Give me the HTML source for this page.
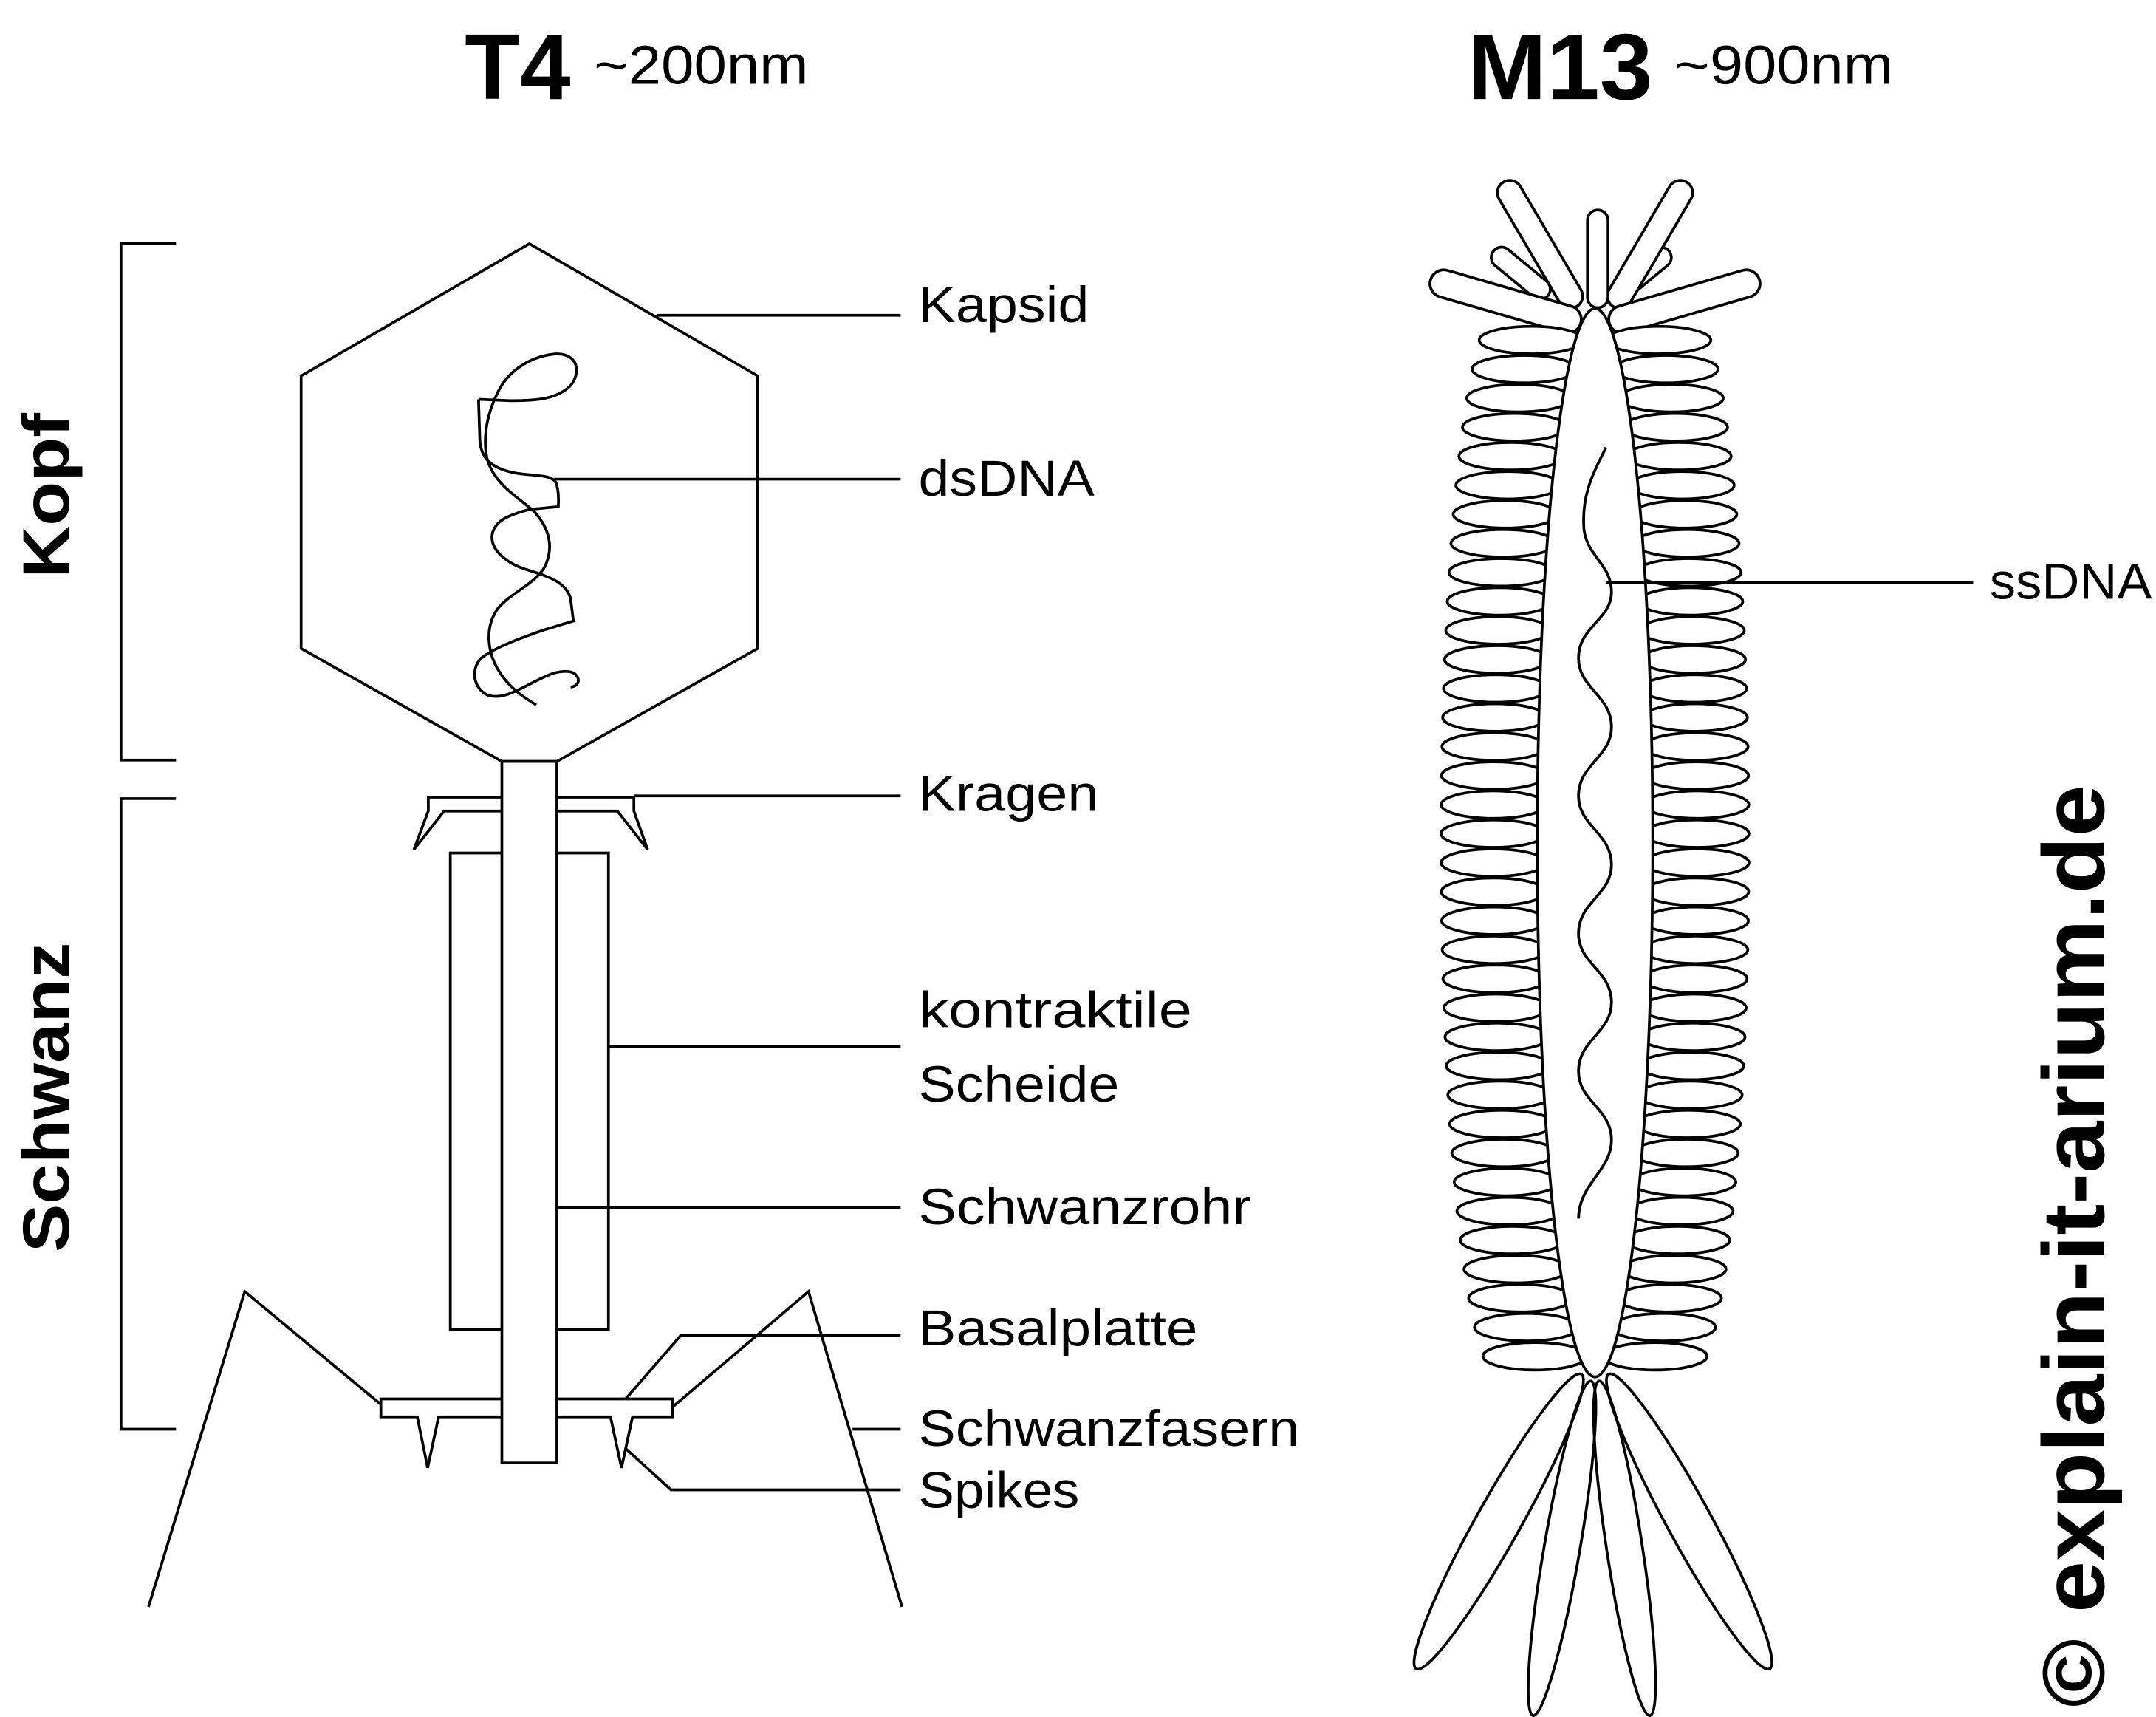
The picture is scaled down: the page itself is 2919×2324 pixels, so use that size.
<!DOCTYPE html>
<html><head><meta charset="utf-8"><style>
html,body{margin:0;padding:0;background:#fff}
svg{display:block}
text{font-family:"Liberation Sans",sans-serif;fill:#000}
</style></head><body>
<svg id="s" width="2919" height="2324" viewBox="0 0 1568 1247" preserveAspectRatio="none">
<g fill="none" stroke="#000" stroke-width="2">
<text x="338" y="72" font-size="68" font-weight="bold" stroke="none" textLength="77" lengthAdjust="spacingAndGlyphs">T4</text>
<text x="432" y="61" font-size="40" stroke="none" textLength="156" lengthAdjust="spacingAndGlyphs">~200nm</text>
<text x="1067" y="72" font-size="68" font-weight="bold" stroke="none" textLength="135" lengthAdjust="spacingAndGlyphs">M13</text>
<text x="1218" y="61" font-size="40" stroke="none" textLength="159" lengthAdjust="spacingAndGlyphs">~900nm</text>

<polyline points="128,177 88,177 88,552 128,552"/>
<polyline points="128,580 88,580 88,1038 128,1038"/>
<text transform="translate(50,360) rotate(-90)" text-anchor="middle" font-size="48" font-weight="bold" stroke="none" textLength="120" lengthAdjust="spacingAndGlyphs">Kopf</text>
<text transform="translate(50,797) rotate(-90)" text-anchor="middle" font-size="48" font-weight="bold" stroke="none" textLength="225" lengthAdjust="spacingAndGlyphs">Schwanz</text>

<polygon points="385,177 551,273 551,471 405,553 365,553 219,471 219,273" fill="#fff"/>
<path d="M348,290 L372,291 C390,291 405,290 415,280 C423,270 420,257 405,257 C388,258 370,268 362,285 C352,305 352,322 354,332 C358,350 375,360 388,371 C400,384 403,398 396,412 C388,425 372,430 362,442 C352,456 355,474 362,486 C370,500 382,507 390,512"/>
<path d="M348,290 L349,320 C350,335 360,340 372,343 C385,346 400,344 404,350 C407,356 406,368 406,368 L385,370 C370,374 360,378 358,388 C356,400 370,410 384,414 C396,418 412,422 415,435 L417,451 L394,458 C380,463 360,470 350,478 C342,486 344,500 355,505 C365,508 375,502 385,497 C395,492 405,486 415,488 C422,490 423,498 415,499"/>
<polyline points="365,579 311.5,579 311.5,589 301,617 323,589 365,589"/>
<polyline points="405,579 461,579 461,589 471,617 449,589 405,589"/>
<rect x="327.5" y="619.5" width="115" height="346"/>
<path d="M277,1016 H489 V1029 H460 L452,1066 L444,1029 H319 L311,1066 L303.5,1029 H277 Z" fill="#fff"/>
<rect x="365" y="553" width="40" height="509.5" fill="#fff"/>
<polyline points="108,1167 178,938 277,1020"/>
<polyline points="656,1167 588,938 489,1022"/>

<line x1="478" y1="229" x2="655" y2="229"/>
<line x1="403" y1="348" x2="655" y2="348"/>
<line x1="461" y1="578" x2="655" y2="578"/>
<line x1="443" y1="760" x2="655" y2="760"/>
<line x1="405" y1="877" x2="655" y2="877"/>
<polyline points="455,1016 495,970 655,970"/>
<line x1="620" y1="1038" x2="655" y2="1038"/>
<polyline points="455,1052 488,1082 655,1082"/>

<g stroke="none" font-size="37">
<text x="668" y="234" textLength="124" lengthAdjust="spacingAndGlyphs">Kapsid</text>
<text x="668" y="360" textLength="128" lengthAdjust="spacingAndGlyphs">dsDNA</text>
<text x="668" y="589" textLength="131" lengthAdjust="spacingAndGlyphs">Kragen</text>
<text x="668" y="746" textLength="199" lengthAdjust="spacingAndGlyphs">kontraktile</text>
<text x="668" y="800" textLength="146" lengthAdjust="spacingAndGlyphs">Scheide</text>
<text x="668" y="889" textLength="242" lengthAdjust="spacingAndGlyphs">Schwanzrohr</text>
<text x="668" y="977" textLength="203" lengthAdjust="spacingAndGlyphs">Basalplatte</text>
<text x="668" y="1050" textLength="277" lengthAdjust="spacingAndGlyphs">Schwanzfasern</text>
<text x="668" y="1095" textLength="117" lengthAdjust="spacingAndGlyphs">Spikes</text>
<text x="1447" y="435" textLength="118" lengthAdjust="spacingAndGlyphs">ssDNA</text>
</g>

<g id="m13">
<g id="caps" fill="#fff"></g>
<g id="rings"></g>
<ellipse cx="1160" cy="612" rx="42" ry="388" fill="#fff"/>
<g id="tails"></g>
<path d="M1168,325 C1158,345 1150,360 1152,385 C1155,405 1172,410 1172,430 C1172,450 1148,455 1148,478 C1148,500 1172,505 1172,528 C1172,550 1148,555 1148,578 C1148,600 1172,605 1172,628 C1172,650 1148,655 1148,678 C1148,700 1172,705 1172,728 C1172,750 1148,755 1148,778 C1148,800 1172,805 1172,828 C1172,850 1148,860 1148,885"/>
<line x1="1168" y1="423" x2="1435" y2="423"/>
</g>
</g>
<text transform="translate(1530,905) rotate(-90)" text-anchor="middle" font-size="64" font-weight="bold" textLength="670" lengthAdjust="spacingAndGlyphs">© explain-it-arium.de</text>
</svg>
<script>
var ns="http://www.w3.org/2000/svg";
var capsules=[[1092,187,1120,210,15],[1208,187,1180,210,15],[1098,140,1142,215,18],[1222,140,1178,215,18],[1162,160,1162,216,15],[1050,206,1140,232,20],[1270,206,1180,232,20]];
var caps=document.getElementById('caps');
capsules.forEach(function(c){
  var dx=c[2]-c[0],dy=c[3]-c[1],L=Math.sqrt(dx*dx+dy*dy),w=c[4];
  var a=Math.atan2(dy,dx)*180/Math.PI;
  var cx=(c[0]+c[2])/2,cy=(c[1]+c[3])/2;
  var r=document.createElementNS(ns,'rect');
  r.setAttribute('x',cx-(L+w)/2);r.setAttribute('y',cy-w/2);
  r.setAttribute('width',L+w);r.setAttribute('height',w);
  r.setAttribute('rx',w/2);
  r.setAttribute('transform','rotate('+a+' '+cx+' '+cy+')');
  
  
  caps.appendChild(r);
});
var rings=document.getElementById('rings');
var n=36;
for(var i=0;i<n;i++){
  var y=247+i*(985-247)/(n-1);
  var t=(y-612)/388;
  var bh=42*Math.sqrt(Math.max(0,1-t*t));
  [-1,1].forEach(function(s){
    var e=document.createElementNS(ns,'ellipse');
    e.setAttribute('cx',1160+s*(bh+32));e.setAttribute('cy',y);
    e.setAttribute('rx',38);e.setAttribute('ry',10);
    e.setAttribute('fill','#fff');
    
    
    rings.appendChild(e);
  });
}
var tl=[[1150,998,1030,1212,16],[1157,1003,1115,1246,13],[1163,1003,1200,1246,13],[1170,998,1287,1212,16]];
var tails=document.getElementById('tails');
tl.forEach(function(p){
  var dx=p[2]-p[0],dy=p[3]-p[1],L=Math.sqrt(dx*dx+dy*dy);
  var a=Math.atan2(dx,dy)*180/Math.PI;
  var cx=(p[0]+p[2])/2,cy=(p[1]+p[3])/2;
  var e=document.createElementNS(ns,'ellipse');
  e.setAttribute('cx',cx);e.setAttribute('cy',cy);
  e.setAttribute('rx',p[4]);e.setAttribute('ry',L/2);
  e.setAttribute('transform','rotate('+(-a)+' '+cx+' '+cy+')');
  e.setAttribute('fill','none');
  
  
  tails.appendChild(e);
});
</script>
</body></html>
